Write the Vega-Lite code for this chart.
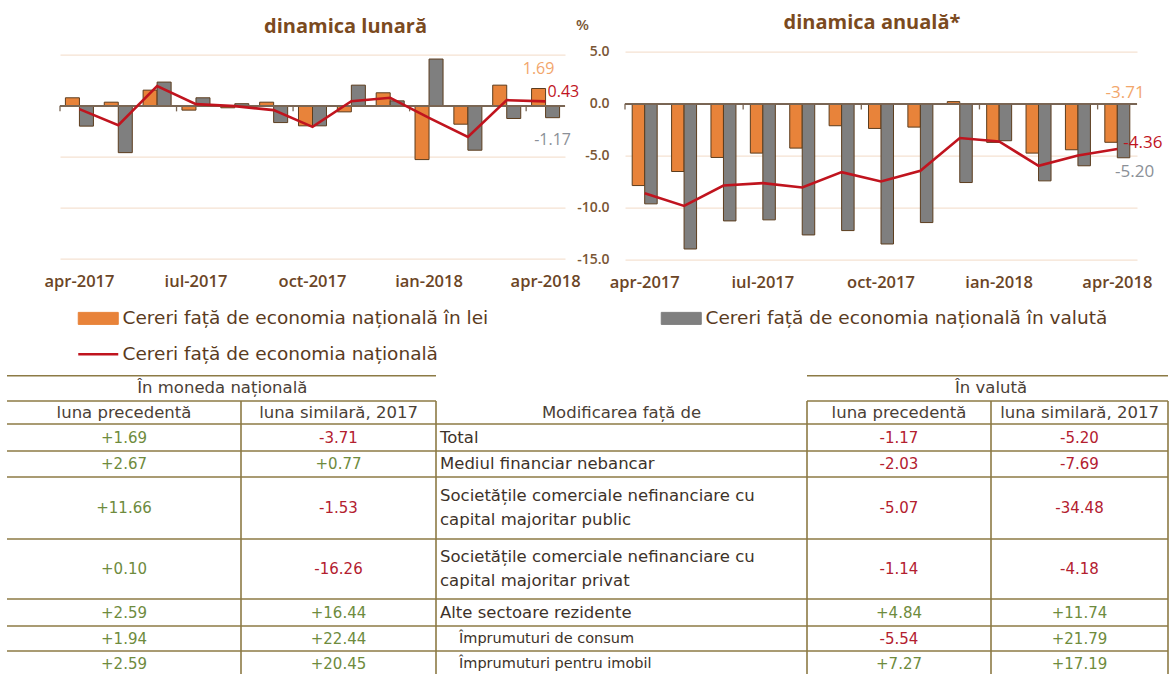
{
  "$schema": "https://vega.github.io/schema/vega-lite/v6.json",
  "autosize": {"type": "none"},
  "padding": {"left": 60, "top": 51.7, "right": 1110, "bottom": 622.3},
  "background": "white",
  "config": {
    "view": {"stroke": null},
    "font": "Open Sans",
    "locale": {"number": {"decimal": ".", "thousands": ",", "grouping": [3], "currency": ["", ""], "minus": "-"}}
  },
  "datasets": {
    "lunar": [
      {"m": "apr-2017", "s": "lei", "v": 0.78}, {"m": "mai-2017", "s": "lei", "v": 0.35}, {"m": "iun-2017", "s": "lei", "v": 1.53}, {"m": "iul-2017", "s": "lei", "v": -0.43}, {"m": "aug-2017", "s": "lei", "v": -0.2}, {"m": "sep-2017", "s": "lei", "v": 0.35}, {"m": "oct-2017", "s": "lei", "v": -1.97}, {"m": "noi-2017", "s": "lei", "v": -0.6}, {"m": "dec-2017", "s": "lei", "v": 1.27}, {"m": "ian-2018", "s": "lei", "v": -5.28}, {"m": "feb-2018", "s": "lei", "v": -1.81}, {"m": "mar-2018", "s": "lei", "v": 2.02}, {"m": "apr-2018", "s": "lei", "v": 1.69},
      {"m": "apr-2017", "s": "valuta", "v": -2.0}, {"m": "mai-2017", "s": "valuta", "v": -4.6}, {"m": "iun-2017", "s": "valuta", "v": 2.32}, {"m": "iul-2017", "s": "valuta", "v": 0.78}, {"m": "aug-2017", "s": "valuta", "v": 0.2}, {"m": "sep-2017", "s": "valuta", "v": -1.65}, {"m": "oct-2017", "s": "valuta", "v": -1.97}, {"m": "noi-2017", "s": "valuta", "v": 2.02}, {"m": "dec-2017", "s": "valuta", "v": 0.48}, {"m": "ian-2018", "s": "valuta", "v": 4.58}, {"m": "feb-2018", "s": "valuta", "v": -4.36}, {"m": "mar-2018", "s": "valuta", "v": -1.25}, {"m": "apr-2018", "s": "valuta", "v": -1.17},
      {"m": "apr-2017", "s": "total", "v": -0.33}, {"m": "mai-2017", "s": "total", "v": -1.9}, {"m": "iun-2017", "s": "total", "v": 1.93}, {"m": "iul-2017", "s": "total", "v": 0.16}, {"m": "aug-2017", "s": "total", "v": -0.04}, {"m": "sep-2017", "s": "total", "v": -0.43}, {"m": "oct-2017", "s": "total", "v": -2.07}, {"m": "noi-2017", "s": "total", "v": 0.45}, {"m": "dec-2017", "s": "total", "v": 0.78}, {"m": "ian-2018", "s": "total", "v": -1.19}, {"m": "feb-2018", "s": "total", "v": -3.05}, {"m": "mar-2018", "s": "total", "v": 0.55}, {"m": "apr-2018", "s": "total", "v": 0.43}
    ],
    "anual": [
      {"m": "apr-2017", "s": "lei", "v": -7.87}, {"m": "mai-2017", "s": "lei", "v": -6.52}, {"m": "iun-2017", "s": "lei", "v": -5.17}, {"m": "iul-2017", "s": "lei", "v": -4.75}, {"m": "aug-2017", "s": "lei", "v": -4.27}, {"m": "sep-2017", "s": "lei", "v": -2.12}, {"m": "oct-2017", "s": "lei", "v": -2.38}, {"m": "noi-2017", "s": "lei", "v": -2.25}, {"m": "dec-2017", "s": "lei", "v": 0.2}, {"m": "ian-2018", "s": "lei", "v": -3.72}, {"m": "feb-2018", "s": "lei", "v": -4.75}, {"m": "mar-2018", "s": "lei", "v": -4.43}, {"m": "apr-2018", "s": "lei", "v": -3.71},
      {"m": "apr-2017", "s": "valuta", "v": -9.63}, {"m": "mai-2017", "s": "valuta", "v": -13.97}, {"m": "iun-2017", "s": "valuta", "v": -11.27}, {"m": "iul-2017", "s": "valuta", "v": -11.17}, {"m": "aug-2017", "s": "valuta", "v": -12.62}, {"m": "sep-2017", "s": "valuta", "v": -12.2}, {"m": "oct-2017", "s": "valuta", "v": -13.49}, {"m": "noi-2017", "s": "valuta", "v": -11.43}, {"m": "dec-2017", "s": "valuta", "v": -7.58}, {"m": "ian-2018", "s": "valuta", "v": -3.56}, {"m": "feb-2018", "s": "valuta", "v": -7.42}, {"m": "mar-2018", "s": "valuta", "v": -5.97}, {"m": "apr-2018", "s": "valuta", "v": -5.2},
      {"m": "apr-2017", "s": "total", "v": -8.6}, {"m": "mai-2017", "s": "total", "v": -9.83}, {"m": "iun-2017", "s": "total", "v": -7.87}, {"m": "iul-2017", "s": "total", "v": -7.64}, {"m": "aug-2017", "s": "total", "v": -8.06}, {"m": "sep-2017", "s": "total", "v": -6.58}, {"m": "oct-2017", "s": "total", "v": -7.48}, {"m": "noi-2017", "s": "total", "v": -6.45}, {"m": "dec-2017", "s": "total", "v": -3.3}, {"m": "ian-2018", "s": "total", "v": -3.63}, {"m": "feb-2018", "s": "total", "v": -5.97}, {"m": "mar-2018", "s": "total", "v": -4.98}, {"m": "apr-2018", "s": "total", "v": -4.36}
    ],
    "hpart": [{"b": 0}, {"b": 1}],
    "hfull": [{"b": 2}, {"b": 3}, {"b": 4}, {"b": 5}, {"b": 6}, {"b": 7}, {"b": 8}],
    "vlines": [{"b": 1}, {"b": 2}, {"b": 3}, {"b": 4}, {"b": 5}],
    "tabtxt": [
      {"r": 0.5, "c": 0.92, "k": "h", "t": "În moneda națională"},
      {"r": 0.5, "c": 4, "k": "h", "t": "În valută"},
      {"r": 1.5, "c": 0.5, "k": "h", "t": "luna precedentă"},
      {"r": 1.5, "c": 1.5, "k": "h", "t": "luna similară, 2017"},
      {"r": 1.5, "c": 2.5, "k": "h", "t": "Modificarea față de"},
      {"r": 1.5, "c": 3.5, "k": "h", "t": "luna precedentă"},
      {"r": 1.5, "c": 4.5, "k": "h", "t": "luna similară, 2017"},
      {"r": 2.5, "c": 2, "k": "l", "t": "Total"},
      {"r": 3.5, "c": 2, "k": "l", "t": "Mediul financiar nebancar"},
      {"r": 4.3, "c": 2, "k": "l", "t": "Societățile comerciale nefinanciare cu"},
      {"r": 4.7, "c": 2, "k": "l", "t": "capital majoritar public"},
      {"r": 5.3, "c": 2, "k": "l", "t": "Societățile comerciale nefinanciare cu"},
      {"r": 5.7, "c": 2, "k": "l", "t": "capital majoritar privat"},
      {"r": 6.5, "c": 2, "k": "l", "t": "Alte sectoare rezidente"},
      {"r": 7.5, "c": 2, "k": "s", "t": "Împrumuturi de consum"},
      {"r": 8.5, "c": 2, "k": "s", "t": "Împrumuturi pentru imobil"}
    ],
    "tabnum": [
      {"r": 2.5, "c": 0.5, "v": 1.69}, {"r": 2.5, "c": 1.5, "v": -3.71}, {"r": 2.5, "c": 3.5, "v": -1.17}, {"r": 2.5, "c": 4.5, "v": -5.20},
      {"r": 3.5, "c": 0.5, "v": 2.67}, {"r": 3.5, "c": 1.5, "v": 0.77}, {"r": 3.5, "c": 3.5, "v": -2.03}, {"r": 3.5, "c": 4.5, "v": -7.69},
      {"r": 4.5, "c": 0.5, "v": 11.66}, {"r": 4.5, "c": 1.5, "v": -1.53}, {"r": 4.5, "c": 3.5, "v": -5.07}, {"r": 4.5, "c": 4.5, "v": -34.48},
      {"r": 5.5, "c": 0.5, "v": 0.10}, {"r": 5.5, "c": 1.5, "v": -16.26}, {"r": 5.5, "c": 3.5, "v": -1.14}, {"r": 5.5, "c": 4.5, "v": -4.18},
      {"r": 6.5, "c": 0.5, "v": 2.59}, {"r": 6.5, "c": 1.5, "v": 16.44}, {"r": 6.5, "c": 3.5, "v": 4.84}, {"r": 6.5, "c": 4.5, "v": 11.74},
      {"r": 7.5, "c": 0.5, "v": 1.94}, {"r": 7.5, "c": 1.5, "v": 22.44}, {"r": 7.5, "c": 3.5, "v": -5.54}, {"r": 7.5, "c": 4.5, "v": 21.79},
      {"r": 8.5, "c": 0.5, "v": 2.59}, {"r": 8.5, "c": 1.5, "v": 20.45}, {"r": 8.5, "c": 3.5, "v": 7.27}, {"r": 8.5, "c": 4.5, "v": 17.19}
    ]
  },
  "vconcat": [
    {
      "hconcat": [
        {
          "width": 505,
          "height": 207,
          "title": {"text": "dinamica lunară", "anchor": "middle", "frame": "group", "dx": 33, "offset": -1.6, "baseline": "alphabetic", "font": "Open Sans", "fontSize": 20, "fontWeight": 700, "color": "#7B4A1E"},
          "data": {"name": "lunar"},
          "layer": [
            {
              "transform": [{"filter": "datum.s !== 'total'"}],
              "mark": {"type": "bar", "stroke": "#5c3d1e", "strokeWidth": 1},
              "encoding": {
                "x": {"field": "m", "type": "nominal", "scale": {"domain": ["apr-2017","mai-2017","iun-2017","iul-2017","aug-2017","sep-2017","oct-2017","noi-2017","dec-2017","ian-2018","feb-2018","mar-2018","apr-2018"], "paddingInner": 0, "paddingOuter": 0},
                      "axis": {"values": ["apr-2017","iul-2017","oct-2017","ian-2018","apr-2018"], "title": null, "domain": false, "ticks": false, "tickSize": 0, "grid": false, "labelPadding": 15, "labelAngle": 0, "labelOverlap": false, "labelFont": "Open Sans", "labelFontSize": 16.5, "labelFontWeight": 600, "labelColor": "#6b4526"}},
                "xOffset": {"field": "s", "type": "nominal", "scale": {"domain": ["lei", "valuta"], "paddingInner": 0, "paddingOuter": 0.386}},
                "y": {"field": "v", "type": "quantitative", "scale": {"domain": [-15, 5.3], "nice": false, "zero": false},
                      "axis": {"values": [-15, -10, -5, 0, 5], "title": null, "labels": false, "ticks": false, "domain": false, "grid": true, "gridColor": "#F5E2D2", "gridWidth": 1.2}},
                "color": {"field": "s", "type": "nominal", "scale": {"domain": ["lei", "valuta", "total"], "range": ["#E8833A", "#7F7F7F", "#C0141E"]},
                          "legend": {
                            "orient": "none", "legendX": 29, "legendY": 257.3, "direction": "horizontal", "columns": 2,
                            "columnPadding": 170, "rowPadding": 17, "padding": 0, "title": null,
                            "symbolType": "M-1,-0.3H1V0.3H-1Z", "symbolSize": 1600, "symbolStrokeColor": "#5c3d1e", "symbolStrokeWidth": 1, "symbolOpacity": 1,
                            "labelFont": "DejaVu Sans", "labelFontSize": 18.5, "labelColor": "#5a3b1e", "labelOffset": 15, "labelLimit": 0,
                            "labelExpr": "datum.value === 'lei' ? 'Cereri față de economia națională în lei' : datum.value === 'valuta' ? 'Cereri față de economia națională în valută' : 'Cereri față de economia națională'",
                            "encode": {"symbols": {"update": {
                              "shape": {"signal": "datum.value === 'total' ? 'M-1,0H1' : 'M-1,-0.3H1V0.3H-1Z'"},
                              "stroke": {"signal": "datum.value === 'total' ? '#C0141E' : '#5c3d1e'"},
                              "strokeWidth": {"signal": "datum.value === 'total' ? 2.5 : 1"},
                              "fill": {"signal": "datum.value === 'total' ? 'transparent' : scale('color', datum.value)"},
                              "opacity": {"value": 1}
                            }}}
                          }}
              }
            },
            {
              "mark": {"type": "rule", "color": "#7a6654", "strokeWidth": 1.3},
              "encoding": {"y": {"datum": 0, "type": "quantitative"}}
            },
            {
              "transform": [{"filter": "datum.s === 'lei'"}, {"filter": {"field": "m", "oneOf": ["apr-2017","iul-2017","oct-2017","ian-2018","apr-2018"]}}],
              "mark": {"type": "rule", "color": "#7a6654", "strokeWidth": 1.3},
              "encoding": {
                "x": {"field": "m", "type": "nominal", "bandPosition": 0},
                "y": {"datum": 0, "type": "quantitative"},
                "y2": {"datum": -0.55}
              }
            },
            {
              "transform": [{"filter": "datum.s === 'total'"}],
              "mark": {"type": "line", "strokeWidth": 2.6},
              "encoding": {
                "x": {"field": "m", "type": "nominal"},
                "y": {"field": "v", "type": "quantitative"},
                "color": {"field": "s", "type": "nominal"}
              }
            },
            {
              "transform": [{"filter": "datum.m === 'apr-2018' && datum.s === 'lei'"}],
              "mark": {"type": "text", "font": "Open Sans", "fontSize": 16, "color": "#F2A66B", "dy": -20, "baseline": "middle"},
              "encoding": {
                "x": {"field": "m", "type": "nominal"},
                "xOffset": {"field": "s", "type": "nominal"},
                "y": {"field": "v", "type": "quantitative"},
                "text": {"field": "v", "type": "quantitative", "format": ".2f"}
              }
            },
            {
              "transform": [{"filter": "datum.m === 'apr-2018' && datum.s === 'valuta'"}],
              "mark": {"type": "text", "font": "Open Sans", "fontSize": 16, "color": "#8B9097", "dy": 22, "baseline": "middle"},
              "encoding": {
                "x": {"field": "m", "type": "nominal"},
                "xOffset": {"field": "s", "type": "nominal"},
                "y": {"field": "v", "type": "quantitative"},
                "text": {"field": "v", "type": "quantitative", "format": ".2f"}
              }
            },
            {
              "transform": [{"filter": "datum.m === 'apr-2018' && datum.s === 'total'"}],
              "mark": {"type": "text", "font": "Open Sans", "fontSize": 16, "color": "#C0141E", "align": "left", "dx": 2, "dy": -9, "baseline": "middle"},
              "encoding": {
                "x": {"field": "m", "type": "nominal"},
                "y": {"field": "v", "type": "quantitative"},
                "text": {"field": "v", "type": "quantitative", "format": ".2f"}
              }
            }
          ]
        },
        {
          "width": 512,
          "height": 208,
          "title": {"text": "dinamica anuală*", "anchor": "middle", "frame": "group", "dx": -9, "offset": -31, "baseline": "alphabetic", "font": "Open Sans", "fontSize": 20, "fontWeight": 700, "color": "#7B4A1E"},
          "data": {"name": "anual"},
          "layer": [
            {
              "transform": [{"filter": "datum.s !== 'total'"}],
              "mark": {"type": "bar", "stroke": "#5c3d1e", "strokeWidth": 1},
              "encoding": {
                "x": {"field": "m", "type": "nominal", "scale": {"domain": ["apr-2017","mai-2017","iun-2017","iul-2017","aug-2017","sep-2017","oct-2017","noi-2017","dec-2017","ian-2018","feb-2018","mar-2018","apr-2018"], "paddingInner": 0, "paddingOuter": 0},
                      "axis": {"values": ["apr-2017","iul-2017","oct-2017","ian-2018","apr-2018"], "title": null, "domain": false, "ticks": false, "tickSize": 0, "grid": false, "labelPadding": 15, "labelAngle": 0, "labelOverlap": false, "labelFont": "Open Sans", "labelFontSize": 16.5, "labelFontWeight": 600, "labelColor": "#6b4526"}},
                "xOffset": {"field": "s", "type": "nominal", "scale": {"domain": ["lei", "valuta"], "paddingInner": 0, "paddingOuter": 0.576}},
                "y": {"field": "v", "type": "quantitative", "scale": {"domain": [-15, 5], "nice": false, "zero": false},
                      "axis": {"orient": "left", "values": [-15, -10, -5, 0, 5], "format": ".1f", "domain": false, "ticks": false, "tickSize": 0, "grid": true, "gridColor": "#F5E2D2", "gridWidth": 1.2,
                               "labelPadding": 16, "labelFont": "Open Sans", "labelFontSize": 14, "labelFontWeight": 600, "labelColor": "#7a5635",
                               "title": "%", "titleAngle": 0, "titleX": -43, "titleY": -27, "titleAlign": "center", "titleBaseline": "middle", "titleFont": "Open Sans", "titleFontSize": 15, "titleFontWeight": 600, "titleColor": "#7a5635"}},
                "color": {"field": "s", "type": "nominal"}
              }
            },
            {
              "mark": {"type": "rule", "color": "#7a6654", "strokeWidth": 1.3},
              "encoding": {"y": {"datum": 0, "type": "quantitative"}}
            },
            {
              "transform": [{"filter": "datum.s === 'lei'"}, {"filter": {"field": "m", "oneOf": ["apr-2017","iul-2017","oct-2017","ian-2018","apr-2018"]}}],
              "mark": {"type": "rule", "color": "#7a6654", "strokeWidth": 1.3},
              "encoding": {
                "x": {"field": "m", "type": "nominal", "bandPosition": 0},
                "y": {"datum": 0, "type": "quantitative"},
                "y2": {"datum": -0.55}
              }
            },
            {
              "transform": [{"filter": "datum.s === 'total'"}],
              "mark": {"type": "line", "strokeWidth": 2.6},
              "encoding": {
                "x": {"field": "m", "type": "nominal"},
                "y": {"field": "v", "type": "quantitative"},
                "color": {"field": "s", "type": "nominal"}
              }
            },
            {
              "transform": [{"filter": "datum.m === 'apr-2018' && datum.s === 'lei'"}],
              "mark": {"type": "text", "font": "Open Sans", "fontSize": 17, "color": "#F2A66B", "dx": 14, "dy": -49, "baseline": "middle"},
              "encoding": {
                "x": {"field": "m", "type": "nominal"},
                "xOffset": {"field": "s", "type": "nominal"},
                "y": {"field": "v", "type": "quantitative"},
                "text": {"field": "v", "type": "quantitative", "format": ".2f"}
              }
            },
            {
              "transform": [{"filter": "datum.m === 'apr-2018' && datum.s === 'valuta'"}],
              "mark": {"type": "text", "font": "Open Sans", "fontSize": 17, "color": "#8B9097", "dx": 11, "dy": 14, "baseline": "middle"},
              "encoding": {
                "x": {"field": "m", "type": "nominal"},
                "xOffset": {"field": "s", "type": "nominal"},
                "y": {"field": "v", "type": "quantitative"},
                "text": {"field": "v", "type": "quantitative", "format": ".2f"}
              }
            },
            {
              "transform": [{"filter": "datum.m === 'apr-2018' && datum.s === 'total'"}],
              "mark": {"type": "text", "font": "Open Sans", "fontSize": 17, "color": "#C0141E", "align": "left", "dx": 6, "dy": -6, "baseline": "middle"},
              "encoding": {
                "x": {"field": "m", "type": "nominal"},
                "y": {"field": "v", "type": "quantitative"},
                "text": {"field": "v", "type": "quantitative", "format": ".2f"}
              }
            }
          ]
        }
      ],
      "spacing": 60,
      "bounds": "flush",
      "resolve": {"scale": {"x": "independent", "y": "independent", "xOffset": "independent", "color": "shared"}, "axis": {"x": "independent", "y": "independent"}, "legend": {"color": "shared"}}
    },
    {
      "width": 1050,
      "height": 298,
      "layer": [
        {
          "data": {"name": "hpart"},
          "mark": {"type": "rule", "color": "#8c7a45", "strokeWidth": 1.6},
          "encoding": {
            "y": {"field": "b", "type": "quantitative", "scale": {"domain": [0, 1, 2, 3, 4, 5, 6, 7, 8, 9], "range": [0, 25.3, 48.3, 75.3, 101.3, 163.3, 223.3, 250.3, 275.3, 301.3], "nice": false, "zero": false}, "axis": null},
            "x": {"datum": 0, "type": "quantitative", "scale": {"domain": [0, 1, 2, 3, 4, 5], "range": [-53, 181, 376, 747, 931, 1108], "nice": false, "zero": false}, "axis": null},
            "x2": {"datum": 2}
          }
        },
        {
          "data": {"name": "hpart"},
          "mark": {"type": "rule", "color": "#8c7a45", "strokeWidth": 1.6},
          "encoding": {
            "y": {"field": "b", "type": "quantitative", "axis": null},
            "x": {"datum": 3, "type": "quantitative", "axis": null},
            "x2": {"datum": 5}
          }
        },
        {
          "data": {"name": "hfull"},
          "mark": {"type": "rule", "color": "#8c7a45", "strokeWidth": 1.6},
          "encoding": {
            "y": {"field": "b", "type": "quantitative", "axis": null},
            "x": {"datum": 0, "type": "quantitative", "axis": null},
            "x2": {"datum": 5}
          }
        },
        {
          "data": {"name": "vlines"},
          "mark": {"type": "rule", "color": "#8c7a45", "strokeWidth": 1.6},
          "encoding": {
            "x": {"field": "b", "type": "quantitative", "axis": null},
            "y": {"datum": 1, "type": "quantitative", "axis": null},
            "y2": {"datum": 9}
          }
        },
        {
          "data": {"name": "tabtxt"},
          "transform": [{"filter": "datum.k === 'h'"}],
          "mark": {"type": "text", "font": "DejaVu Sans", "fontSize": 16.5, "color": "#4a4036", "align": "center", "baseline": "middle"},
          "encoding": {
            "x": {"field": "c", "type": "quantitative", "axis": null},
            "y": {"field": "r", "type": "quantitative", "axis": null},
            "text": {"field": "t", "type": "nominal"}
          }
        },
        {
          "data": {"name": "tabtxt"},
          "transform": [{"filter": "datum.k === 'l'"}],
          "mark": {"type": "text", "font": "DejaVu Sans", "fontSize": 16.5, "color": "#3d3229", "align": "left", "dx": 4, "baseline": "middle"},
          "encoding": {
            "x": {"field": "c", "type": "quantitative", "axis": null},
            "y": {"field": "r", "type": "quantitative", "axis": null},
            "text": {"field": "t", "type": "nominal"}
          }
        },
        {
          "data": {"name": "tabtxt"},
          "transform": [{"filter": "datum.k === 's'"}],
          "mark": {"type": "text", "font": "DejaVu Sans", "fontSize": 14.5, "color": "#3d3229", "align": "left", "dx": 23, "baseline": "middle"},
          "encoding": {
            "x": {"field": "c", "type": "quantitative", "axis": null},
            "y": {"field": "r", "type": "quantitative", "axis": null},
            "text": {"field": "t", "type": "nominal"}
          }
        },
        {
          "data": {"name": "tabnum"},
          "mark": {"type": "text", "font": "DejaVu Sans", "fontSize": 15, "align": "center", "baseline": "middle"},
          "encoding": {
            "x": {"field": "c", "type": "quantitative", "axis": null},
            "y": {"field": "r", "type": "quantitative", "axis": null},
            "text": {"field": "v", "type": "quantitative", "format": "+.2f"},
            "color": {"condition": {"test": "datum.v < 0", "value": "#B3202F"}, "value": "#6E8B3D"}
          }
        }
      ]
    }
  ],
  "spacing": 324,
  "bounds": "flush",
  "resolve": {"scale": {"x": "independent", "y": "independent"}}
}
